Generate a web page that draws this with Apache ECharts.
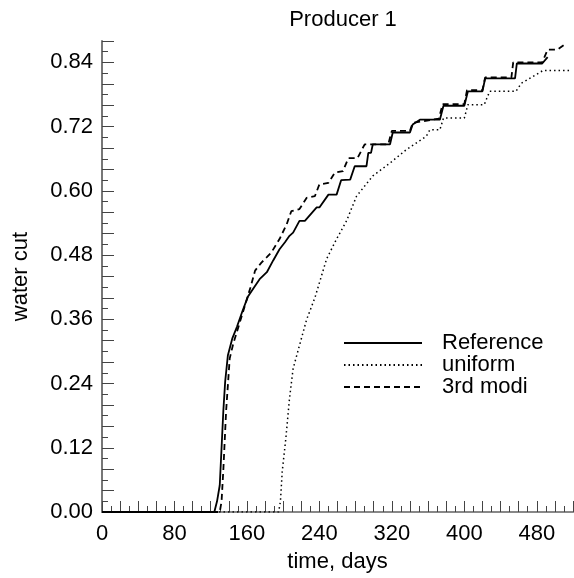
<!DOCTYPE html>
<html>
<head>
<meta charset="utf-8">
<script src="https://cdn.jsdelivr.net/npm/echarts@6/dist/echarts.min.js"></script>
<style>
  html, body { margin: 0; padding: 0; background: #fff; }
  #main { width: 574px; height: 578px; }
</style>
</head>
<body>
<div id="main"></div>
<script>
// 数据 (time in days, water cut)
var refData = [
  [0, 0], [124, 0], [127, 0.02], [130, 0.05], [134, 0.19], [136, 0.244], [139, 0.293],
  [144, 0.325], [149, 0.346], [155, 0.375], [161, 0.402], [168, 0.42], [174, 0.435],
  [182, 0.448], [189, 0.47], [196, 0.491], [202, 0.504], [207, 0.516], [211, 0.522],
  [218, 0.544], [224, 0.544], [237, 0.569], [240, 0.569], [250, 0.593], [259, 0.593],
  [264, 0.62], [274, 0.621], [279, 0.646], [292, 0.646], [294, 0.671], [297, 0.671],
  [299, 0.687], [318, 0.687], [321, 0.709], [340, 0.709], [343, 0.724], [351, 0.733],
  [373, 0.733], [377, 0.759], [400, 0.759], [404, 0.786], [420, 0.786], [423, 0.81],
  [456, 0.81], [458, 0.838], [486, 0.838], [492, 0.85]
];
var uniformData = [
  [0, 0], [195, 0], [197, 0.02], [199, 0.076], [203, 0.138], [207, 0.212], [211, 0.268],
  [218, 0.311], [226, 0.36], [235, 0.40], [248, 0.473], [259, 0.51], [270, 0.544],
  [281, 0.59], [299, 0.628], [318, 0.652], [336, 0.677], [358, 0.702], [362, 0.714],
  [373, 0.714], [377, 0.736], [400, 0.736], [404, 0.761], [422, 0.761], [428, 0.786],
  [457, 0.786], [463, 0.801], [476, 0.814], [487, 0.825], [516, 0.825]
];
var modiData = [
  [0, 0], [130, 0], [132, 0.02], [134, 0.08], [137, 0.188], [141, 0.287], [145, 0.315],
  [149, 0.337], [155, 0.37], [160, 0.398], [164, 0.42], [169, 0.451], [176, 0.466],
  [182, 0.476], [187, 0.485], [196, 0.51], [204, 0.538], [209, 0.562], [218, 0.566],
  [226, 0.587], [235, 0.59], [240, 0.612], [250, 0.615], [257, 0.634], [266, 0.637],
  [272, 0.661], [282, 0.661], [290, 0.687], [316, 0.687], [320, 0.712], [340, 0.712],
  [343, 0.727], [372, 0.735], [376, 0.762], [400, 0.762], [403, 0.788], [420, 0.788],
  [423, 0.812], [452, 0.812], [454, 0.84], [486, 0.84], [492, 0.864], [503, 0.864],
  [513, 0.876]
];
var seriesNames = ['Reference', 'uniform', '3rd modi'];

var xMin = 0, xMax = 520;
var yMin = 0, yMax = 0.88;
var fontFam = 'Liberation Sans, Arial, sans-serif';
var fs = 22;

var chart = echarts.init(document.getElementById('main'));

// 刻度轴：长刻度/短刻度用叠加的轴画
function tickAxis(pos, interval, len, isY) {
  return {
    type: 'value', position: pos, min: isY ? yMin : xMin, max: isY ? yMax : xMax,
    interval: interval,
    axisLine: { show: false },
    axisTick: { show: true, inside: true, length: len, lineStyle: { color: '#444', width: 1 } },
    axisLabel: { show: false },
    splitLine: { show: false }
  };
}

var option = {
  animation: false,
  backgroundColor: '#fff',
  title: {
    text: 'Producer 1',
    left: 338, top: 4, textAlign: 'center',
    textStyle: { fontFamily: fontFam, fontSize: fs, fontWeight: 'normal', color: '#000' }
  },
  grid: { left: 102, right: 1, top: 41, bottom: 64 },
  legend: {
    orient: 'vertical',
    left: 338, top: 327,
    itemWidth: 78, itemHeight: 14, itemGap: 0,
    data: seriesNames,
    itemStyle: { opacity: 0 },
    textStyle: { fontFamily: fontFam, fontSize: fs, color: '#000', padding: [0, 0, 0, 15] }
  },
  xAxis: [
    {
      type: 'value', position: 'bottom', min: xMin, max: xMax, interval: 80,
      name: 'time, days', nameLocation: 'middle', nameGap: 39,
      nameTextStyle: { fontFamily: fontFam, fontSize: fs, color: '#000' },
      axisLine: { show: true, onZero: false, lineStyle: { color: '#222', width: 1.5 } },
      axisTick: { show: false },
      axisLabel: { fontFamily: fontFam, fontSize: fs, color: '#000', margin: 11, showMaxLabel: false },
      splitLine: { show: false }
    },
    tickAxis('bottom', 20, 11, false),
    tickAxis('bottom', 10, 6, false),
    {
      type: 'value', position: 'top', min: xMin, max: xMax,
      axisLine: { show: true, lineStyle: { color: '#888', width: 2 } },
      axisTick: { show: false }, axisLabel: { show: false }, splitLine: { show: false }
    }
  ],
  yAxis: [
    {
      type: 'value', position: 'left', min: yMin, max: yMax, interval: 0.12,
      name: 'water cut', nameLocation: 'middle', nameGap: 70,
      nameTextStyle: { fontFamily: fontFam, fontSize: fs, color: '#000' },
      axisLine: { show: true, onZero: false, lineStyle: { color: '#777', width: 2 } },
      axisTick: { show: false },
      axisLabel: {
        fontFamily: fontFam, fontSize: fs, color: '#000', margin: 9, showMaxLabel: false,
        formatter: function (v) { return v.toFixed(2); }
      },
      splitLine: { show: false }
    },
    tickAxis('left', 0.04, 12, true),
    tickAxis('left', 0.02, 6, true)
  ],
  series: [
    {
      name: seriesNames[0], type: 'line', data: refData, symbol: 'none',
      lineStyle: { color: '#000', width: 1.8, type: 'solid' }, itemStyle: { color: '#000' }
    },
    {
      name: seriesNames[1], type: 'line', data: uniformData, symbol: 'none',
      lineStyle: { color: '#000', width: 1.5, type: [1.5, 3] }, itemStyle: { color: '#000' }
    },
    {
      name: seriesNames[2], type: 'line', data: modiData, symbol: 'none',
      lineStyle: { color: '#000', width: 1.8, type: [6, 4] }, itemStyle: { color: '#000' }
    }
  ]
};
chart.setOption(option);
</script>
</body>
</html>
